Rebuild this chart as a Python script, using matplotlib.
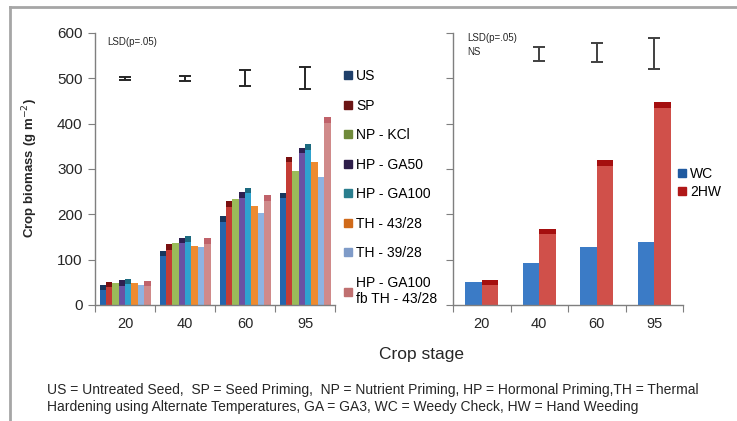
import matplotlib
matplotlib.use('Agg')
import matplotlib.pyplot as plt
from matplotlib.lines import Line2D
import numpy as np

plt.rcParams['font.family'] = ['Liberation Sans', 'DejaVu Sans']

# ---- data ----
stages = ['20', '40', '60', '95']

treatments = ['US', 'SP', 'NP - KCl', 'HP - GA50', 'HP - GA100',
              'TH - 43/28', 'TH - 39/28', 'HP - GA100\nfb TH - 43/28']
biomass = [
    [44, 119, 196, 248],   # US
    [51, 134, 229, 327],   # SP
    [49, 136, 233, 295],   # NP - KCl
    [55, 148, 249, 347],   # HP - GA50
    [58, 152, 259, 355],   # HP - GA100
    [48, 130, 218, 316],   # TH - 43/28
    [45, 127, 204, 282],   # TH - 39/28
    [53, 147, 242, 414],   # HP - GA100 fb TH - 43/28
]
lsd_left_center = [500, 500, 501, 501]
lsd_left_half = [4, 6, 17, 25]

weed_labels = ['WC', '2HW']
weed_biomass = [
    [51, 92, 127, 140],    # WC
    [56, 168, 319, 447],   # 2HW
]
lsd_right_stage = [1, 2, 3]
lsd_right_center = [554, 556, 555]
lsd_right_half = [15, 21, 34]

# ---- styling ----
bar_colors = ['#2566ad', '#c43c35', '#9bbb59', '#6a52a3', '#2ea3cf',
              '#ee8b30', '#8db3e2', '#d08a8a']
cap_colors = ['#17375e', '#7a1010', '#9bbb59', '#2f2050', '#1b6a80',
              '#ee8b30', '#8db3e2', '#c0626a']
legend_colors = ['#1f3f6a', '#6b1414', '#6f8a3a', '#2e1e4a', '#2a7e8e',
                 '#d06a1a', '#7f9bc8', '#c07070']
weed_colors = ['#3b7bc6', '#d0504a']
weed_caps = ['#3b7bc6', '#a50f0f']
weed_legend = ['#1f5aa0', '#b01818']

W, H = 737, 421
fig = plt.figure(figsize=(W / 100, H / 100), dpi=100)

axL = fig.add_axes([95 / W, 1 - 305 / H, 240 / W, 272 / H])
axR = fig.add_axes([453 / W, 1 - 305 / H, 230 / W, 272 / H])

CAP = 12


def style_axis(ax, show_labels):
    for s in ['top', 'right']:
        ax.spines[s].set_visible(False)
    for s in ['left', 'bottom']:
        ax.spines[s].set_color('#7f7f7f')
        ax.spines[s].set_linewidth(1.0)
    ax.set_xlim(0, 4)
    ax.set_ylim(0, 600)
    ax.set_yticks(np.arange(0, 601, 100))
    ax.set_xticks(np.arange(0, 5))
    ax.set_xticklabels([])
    ax.set_xticks(np.arange(len(stages)) + 0.5, minor=True)
    ax.set_xticklabels(stages, minor=True, fontsize=10.5, color='#262626')
    ax.tick_params(axis='x', which='minor', length=0, pad=9)
    ax.tick_params(axis='x', which='major', direction='out', length=5,
                   color='#7f7f7f')
    ax.tick_params(axis='y', direction='out', length=5, color='#7f7f7f',
                   labelsize=11, labelcolor='#262626', pad=4)
    if not show_labels:
        ax.set_yticklabels([])


style_axis(axL, True)
style_axis(axR, False)

# left chart bars
n = len(treatments)
w = 0.85 / n
groups = np.arange(len(stages))
for i in range(n):
    x = groups + 0.075 + (i + 0.5) * w
    vals = np.array(biomass[i])
    axL.bar(x, vals, width=w, color=bar_colors[i], linewidth=0)
    axL.bar(x, CAP, bottom=vals - CAP, width=w, color=cap_colors[i], linewidth=0)

axL.errorbar(groups + 0.5, lsd_left_center, yerr=lsd_left_half, fmt='none',
             ecolor='#262626', elinewidth=1.4, capsize=4.3, capthick=1.4)
axL.text(0.2, 580, 'LSD(p=.05)', fontsize=7, color='#262626', va='center')

# right chart bars
wr = 0.29
for j in range(len(weed_labels)):
    x = groups + 0.5 + (j - 0.5) * wr
    vals = np.array(weed_biomass[j])
    axR.bar(x, vals, width=wr, color=weed_colors[j], linewidth=0)
    axR.bar(x, CAP, bottom=vals - CAP, width=wr, color=weed_caps[j], linewidth=0)

axR.errorbar(np.array(lsd_right_stage) + 0.5, lsd_right_center, yerr=lsd_right_half,
             fmt='none', ecolor='#404040', elinewidth=1.4, capsize=4.3, capthick=1.4)
axR.text(0.24, 588, 'LSD(p=.05)', fontsize=7, color='#262626', va='center')
axR.text(0.24, 557, 'NS', fontsize=7, color='#262626', va='center')

# legends
hL = [Line2D([], [], marker='s', linestyle='none', markersize=5.5,
             markerfacecolor=c, markeredgecolor=c) for c in legend_colors]
fig.legend(hL, treatments, loc='upper left', bbox_to_anchor=(345 / W, 1 - 69 / H),
           frameon=False, fontsize=10, handlelength=0.5, handletextpad=0.3,
           labelspacing=1.12, borderaxespad=0, borderpad=0)

hR = [Line2D([], [], marker='s', linestyle='none', markersize=5.5,
             markerfacecolor=c, markeredgecolor=c) for c in weed_legend]
fig.legend(hR, weed_labels, loc='upper left', bbox_to_anchor=(679 / W, 1 - 167 / H),
           frameon=False, fontsize=10, handlelength=0.5, handletextpad=0.3,
           labelspacing=0.3, borderaxespad=0, borderpad=0)

# axis titles and footnote
fig.text(30 / W, 1 - 168 / H, 'Crop biomass (g m$^{-2}$)', rotation=90,
         ha='center', va='center', fontsize=9.5, fontweight='bold', color='#262626')
fig.text(422 / W, 1 - 355 / H, 'Crop stage', ha='center', va='center',
         fontsize=12.5, color='#262626')
fig.text(47 / W, 1 - 390 / H,
         'US = Untreated Seed,  SP = Seed Priming,  NP = Nutrient Priming, '
         'HP = Hormonal Priming,TH = Thermal',
         ha='left', va='center', fontsize=10, color='#262626')
fig.text(47 / W, 1 - 407 / H,
         'Hardening using Alternate Temperatures, GA = GA3, WC = Weedy Check, '
         'HW = Hand Weeding',
         ha='left', va='center', fontsize=10, color='#262626')

# outer frame (top and left only, as in the source)
fig.add_artist(Line2D([10 / W, 1], [1 - 7 / H, 1 - 7 / H], color='#a6a6a6', lw=2))
fig.add_artist(Line2D([10 / W, 10 / W], [0, 1 - 7 / H], color='#a6a6a6', lw=2))

fig.savefig('out.png', dpi=100)
